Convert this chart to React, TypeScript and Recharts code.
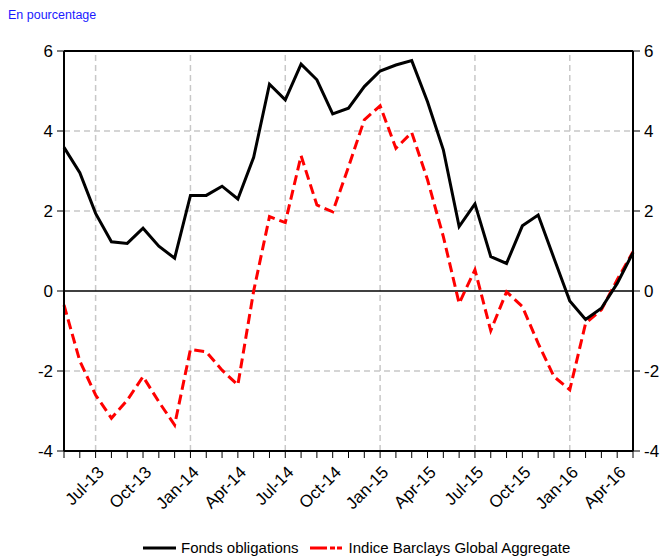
import React from 'react';
import { LineChart, Line, XAxis, YAxis, ReferenceLine } from 'recharts';

const months = [
  'May-13', 'Jun-13', 'Jul-13', 'Aug-13', 'Sep-13', 'Oct-13', 'Nov-13', 'Dec-13',
  'Jan-14', 'Feb-14', 'Mar-14', 'Apr-14', 'May-14', 'Jun-14', 'Jul-14', 'Aug-14',
  'Sep-14', 'Oct-14', 'Nov-14', 'Dec-14', 'Jan-15', 'Feb-15', 'Mar-15', 'Apr-15',
  'May-15', 'Jun-15', 'Jul-15', 'Aug-15', 'Sep-15', 'Oct-15', 'Nov-15', 'Dec-15',
  'Jan-16', 'Feb-16', 'Mar-16', 'Apr-16', 'May-16',
];

const fondsObligations = [
  3.59, 2.96, 1.94, 1.23, 1.19, 1.57, 1.12, 0.82, 2.39, 2.39, 2.62, 2.3,
  3.34, 5.17, 4.78, 5.67, 5.28, 4.43, 4.57, 5.11, 5.5, 5.65, 5.76, 4.73,
  3.53, 1.61, 2.18, 0.86, 0.69, 1.63, 1.9, 0.82, -0.25, -0.71, -0.43, 0.19,
  0.96,
];

const barclaysAggregate = [
  -0.35, -1.75, -2.6, -3.18, -2.73, -2.14, -2.77, -3.35, -1.46, -1.52, -1.98, -2.35,
  0.0, 1.86, 1.71, 3.38, 2.15, 1.98, 3.1, 4.28, 4.63, 3.57, 3.96, 2.78,
  1.36, -0.31, 0.53, -0.99, -0.02, -0.39, -1.31, -2.14, -2.47, -0.81, -0.47, 0.28,
  0.98,
];

const yTicks = [-4, -2, 0, 2, 4, 6];
const labelledMonths = ['Jan', 'Apr', 'Jul', 'Oct'];
const gridMonths = ['Jul-13', 'Jan-14', 'Jul-14', 'Jan-15', 'Jul-15', 'Jan-16'];
const gridValues = [4, 2, -2];

const data = months.map((m, i) => ({
  month: m,
  fonds: fondsObligations[i],
  barclays: barclaysAggregate[i],
}));

const FONT = '"Liberation Sans", Arial, sans-serif';
const GRID = '#c8c8c8';

function MonthTick(props: any) {
  const { x, y, payload } = props;
  const label: string = payload.value;
  if (!labelledMonths.includes(label.slice(0, 3))) return null;
  return (
    <g transform={`translate(${x + 1},${y + 5})`}>
      <text
        x={0}
        y={0}
        dy="0.7em"
        textAnchor="end"
        transform="rotate(-45)"
        fontSize={17}
        fontFamily={FONT}
        fill="#000"
      >
        {label}
      </text>
    </g>
  );
}

export default function App() {
  return (
    <div style={{ position: 'absolute', left: 0, top: 0, width: 664, height: 558, background: '#fff', overflow: 'hidden' }}>
      <div style={{ position: 'absolute', left: 8, top: 8, fontFamily: FONT, fontSize: 12.5, color: '#1a1aff' }}>
        En pourcentage
      </div>
      <LineChart
        width={664}
        height={558}
        data={data}
        margin={{ top: 51, right: 0, left: 0, bottom: 7 }}
      >
        <XAxis
          dataKey="month"
          interval={0}
          tick={<MonthTick />}
          tickSize={7}
          height={100}
          axisLine={{ stroke: '#000', strokeWidth: 2 }}
          tickLine={{ stroke: '#000' }}
        />
        <YAxis
          yAxisId="left"
          domain={[-4, 6]}
          ticks={yTicks}
          width={64}
          tickSize={7}
          tickMargin={4}
          axisLine={{ stroke: '#000', strokeWidth: 2 }}
          tickLine={{ stroke: '#000' }}
          tick={{ fontSize: 17, fill: '#000', fontFamily: FONT }}
        />
        <YAxis
          yAxisId="right"
          orientation="right"
          domain={[-4, 6]}
          ticks={yTicks}
          width={31}
          tickSize={7}
          tickMargin={4}
          axisLine={{ stroke: '#000', strokeWidth: 2 }}
          tickLine={{ stroke: '#000' }}
          tick={{ fontSize: 17, fill: '#000', fontFamily: FONT }}
        />
        {gridValues.map((v) => (
          <ReferenceLine key={`h${v}`} yAxisId="left" y={v} stroke={GRID} strokeDasharray="6 4" strokeWidth={1.5} />
        ))}
        {gridMonths.map((m) => (
          <ReferenceLine key={`v${m}`} yAxisId="left" x={m} stroke={GRID} strokeDasharray="6 4" strokeWidth={1.5} />
        ))}
        <ReferenceLine yAxisId="left" y={0} stroke="#000" strokeWidth={1.5} />
        <ReferenceLine yAxisId="left" y={6} stroke="#000" strokeWidth={2} />
        <Line
          yAxisId="right"
          type="linear"
          dataKey="barclays"
          stroke="#ff0000"
          strokeWidth={3}
          strokeDasharray="10 5"
          dot={false}
          isAnimationActive={false}
        />
        <Line
          yAxisId="left"
          type="linear"
          dataKey="fonds"
          stroke="#000"
          strokeWidth={3}
          dot={false}
          isAnimationActive={false}
        />
      </LineChart>
      <div
        style={{
          position: 'absolute',
          left: 143,
          top: 539,
          display: 'flex',
          alignItems: 'center',
          fontFamily: FONT,
          fontSize: 15,
          color: '#000',
          whiteSpace: 'nowrap',
        }}
      >
        <svg width={33} height={6} style={{ marginRight: 5 }}>
          <line x1={0} y1={3} x2={33} y2={3} stroke="#000" strokeWidth={3} />
        </svg>
        <span style={{ marginRight: 11 }}>Fonds obligations</span>
        <svg width={32} height={6} style={{ marginRight: 7 }}>
          <line x1={0} y1={3} x2={32} y2={3} stroke="#ff0000" strokeWidth={3} strokeDasharray="17 3 5 2 5" />
        </svg>
        <span>Indice Barclays Global Aggregate</span>
      </div>
    </div>
  );
}
